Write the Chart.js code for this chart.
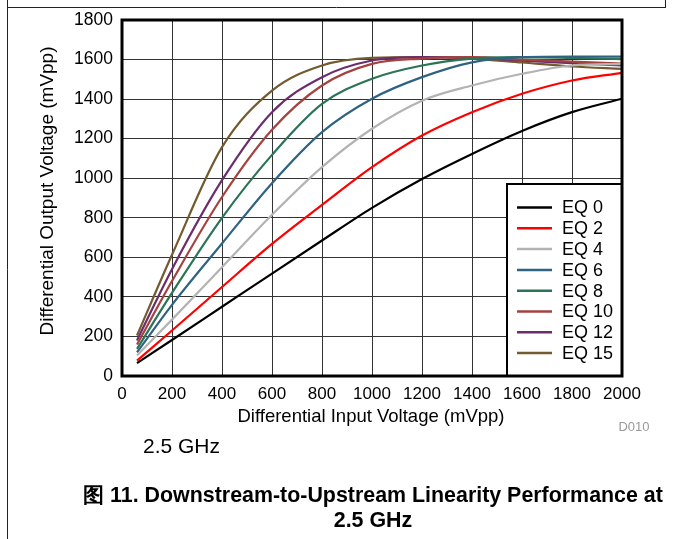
<!DOCTYPE html>
<html>
<head>
<meta charset="utf-8">
<script src="https://cdn.jsdelivr.net/npm/chart.js@4.4.0/dist/chart.umd.min.js"></script>
<style>
  html, body { margin: 0; padding: 0; background: #fff; }
  #wrap { width: 673px; height: 539px; }
</style>
</head>
<body>
<div id="wrap"><canvas id="linChart" width="673" height="539"></canvas></div>
<script>
// input voltage (mVpp)
const inputMv = [60, 200, 400, 600, 800, 1000, 1200, 1400, 1600, 1800, 2000];

// output voltage (mVpp) per EQ setting
const eq0  = [65, 182, 350, 518, 685, 850, 996, 1123, 1239, 1334, 1402];
const eq2  = [78, 230, 450, 668, 865, 1056, 1216, 1334, 1427, 1494, 1533];
const eq4  = [104, 285, 550, 815, 1056, 1250, 1392, 1469, 1528, 1570, 1578];
const eq6  = [120, 360, 670, 975, 1233, 1402, 1511, 1586, 1612, 1615, 1615];
const eq8  = [137, 420, 800, 1118, 1376, 1503, 1570, 1605, 1612, 1608, 1602];
const eq10 = [159, 480, 905, 1245, 1469, 1578, 1605, 1612, 1600, 1590, 1580];
const eq12 = [180, 540, 990, 1334, 1511, 1595, 1612, 1610, 1595, 1582, 1570];
const eq15 = [205, 613, 1157, 1443, 1570, 1608, 1612, 1605, 1585, 1565, 1553];

const seriesLabels = ["EQ 0", "EQ 2", "EQ 4", "EQ 6", "EQ 8", "EQ 10", "EQ 12", "EQ 15"];
const seriesValues = [eq0, eq2, eq4, eq6, eq8, eq10, eq12, eq15];
const seriesColors = ["#000000", "#ff0000", "#b3b3b3", "#2f6381", "#2b7456", "#a3423f", "#6c2d6c", "#735a2f"];

const FONT = "'Liberation Sans', Arial, sans-serif";

const datasets = seriesLabels.map((lab, i) => ({
  label: lab,
  data: inputMv.map((x, j) => ({ x: x, y: seriesValues[i][j] })),
  borderColor: seriesColors[i],
  backgroundColor: seriesColors[i],
  borderWidth: 2.2,
  pointRadius: 0,
  fill: false,
  cubicInterpolationMode: "monotone"
}));

const decor = {
  id: "decor",
  afterDraw(chart) {
    const ctx = chart.ctx;
    const a = chart.chartArea;
    ctx.save();

    // page frame
    ctx.strokeStyle = "#222";
    ctx.lineWidth = 1;
    ctx.beginPath();
    ctx.moveTo(7.5, 0); ctx.lineTo(7.5, 539);
    ctx.moveTo(7, 7.5); ctx.lineTo(666, 7.5);
    ctx.moveTo(665.5, 0); ctx.lineTo(665.5, 7.5);
    ctx.stroke();

    // legend box
    const lx = 507, ly = 184, lw = a.right - lx, lh = a.bottom - ly;
    ctx.fillStyle = "#fff";
    ctx.fillRect(lx, ly, lw, lh);
    ctx.strokeStyle = "#000";
    ctx.lineWidth = 2;
    ctx.strokeRect(lx, ly, lw, lh);
    ctx.font = "18px " + FONT;
    ctx.textBaseline = "middle";
    ctx.textAlign = "left";
    chart.data.datasets.forEach((ds, i) => {
      const y = 207.5 + i * 20.8;
      ctx.strokeStyle = ds.borderColor;
      ctx.lineWidth = 2.5;
      ctx.beginPath();
      ctx.moveTo(517, y); ctx.lineTo(552, y);
      ctx.stroke();
      ctx.fillStyle = "#000";
      ctx.fillText(ds.label, 562, y + 1);
    });

    // plot frame
    ctx.strokeStyle = "#000";
    ctx.lineWidth = 3;
    ctx.strokeRect(a.left, a.top, a.right - a.left, a.bottom - a.top);

    // axis titles
    ctx.fillStyle = "#000";
    ctx.font = "18.5px " + FONT;
    ctx.textAlign = "center";
    ctx.fillText("Differential Input Voltage (mVpp)", 371, 417);
    ctx.save();
    ctx.translate(48, 191);
    ctx.rotate(-Math.PI / 2);
    ctx.font = "19px " + FONT;
    ctx.fillText("Differential Output Voltage (mVpp)", 0, 0);
    ctx.restore();

    ctx.fillStyle = "#999";
    ctx.font = "13px " + FONT;
    ctx.fillText("D010", 634, 427);

    ctx.fillStyle = "#000";
    ctx.font = "21px " + FONT;
    ctx.textAlign = "left";
    ctx.fillText("2.5 GHz", 143, 447);

    ctx.font = "bold 21.4px " + FONT;
    ctx.textAlign = "center";
    ctx.fillText("图 11. Downstream-to-Upstream Linearity Performance at", 373, 496);
    ctx.fillText("2.5 GHz", 373, 521);
    ctx.restore();
  }
};

new Chart("linChart", {
  type: "line",
  data: { datasets: datasets },
  options: {
    responsive: false,
    animation: false,
    layout: { padding: { left: 0, top: 20, right: 51, bottom: 0 } },
    plugins: {
      legend: { display: false },
      title: { display: false },
      tooltip: { enabled: false }
    },
    scales: {
      x: {
        type: "linear",
        min: 0,
        max: 2000,
        afterFit: s => { s.height = 163; },
        border: { display: false },
        grid: { color: "#333", lineWidth: 1, drawTicks: false },
        ticks: {
          stepSize: 200,
          maxRotation: 0,
          padding: 8,
          color: "#000",
          font: { family: FONT, size: 17 },
          callback: v => String(v)
        }
      },
      y: {
        min: 0,
        max: 1800,
        afterFit: s => { s.width = 122; },
        border: { display: false },
        grid: { color: "#333", lineWidth: 1, drawTicks: false },
        ticks: {
          stepSize: 200,
          padding: 9,
          color: "#000",
          font: { family: FONT, size: 17.5 },
          callback: v => String(v)
        }
      }
    }
  },
  plugins: [decor]
});
</script>
</body>
</html>
